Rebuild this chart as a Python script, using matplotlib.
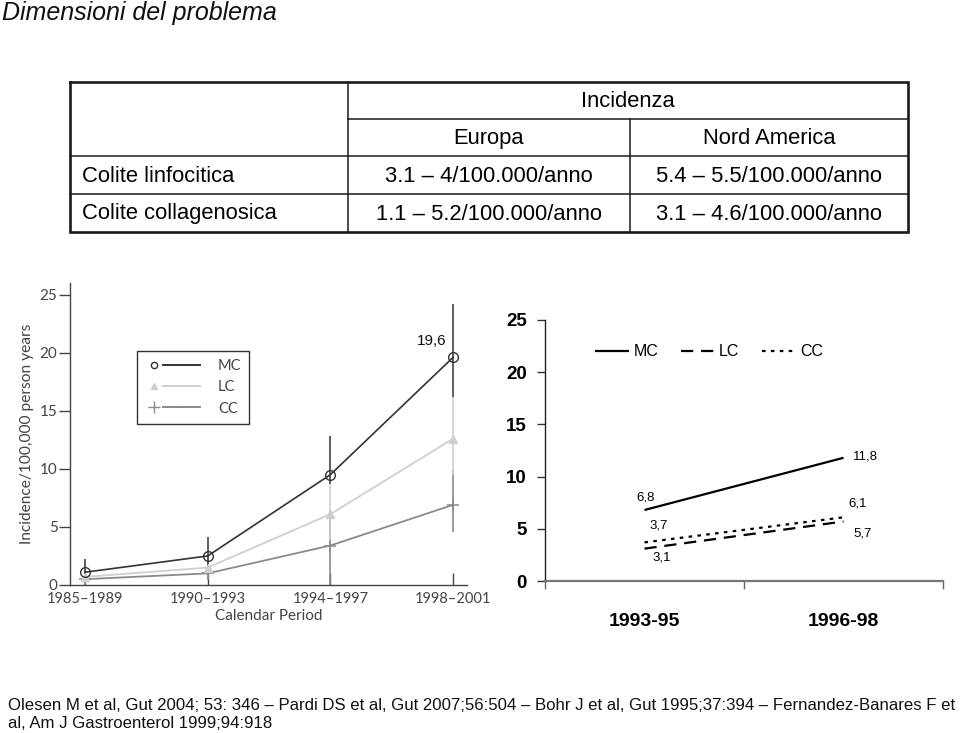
import matplotlib
matplotlib.use('Agg')
import matplotlib.pyplot as plt
from matplotlib.lines import Line2D
from matplotlib.legend_handler import HandlerTuple
from matplotlib import font_manager

# ---------------- data ----------------
title = "Dimensioni del problema"
table_header = "Incidenza"
table_regions = ["Europa", "Nord America"]
table_rows = ["Colite linfocitica", "Colite collagenosica"]
table_europa = ["3.1 – 4/100.000/anno", "1.1 – 5.2/100.000/anno"]
table_nordam = ["5.4 – 5.5/100.000/anno", "3.1 – 4.6/100.000/anno"]

left_periods = ["1985–1989", "1990–1993", "1994–1997", "1998–2001"]
left_mc = [1.1, 2.5, 9.5, 19.6]
left_lc = [0.7, 1.5, 6.1, 12.6]
left_cc = [0.5, 1.0, 3.4, 6.9]
left_mc_lo = [0.3, 0.9, 8.7, 16.2]
left_mc_hi = [2.2, 4.1, 12.8, 24.2]
left_lc_lo = [0.1, 0.7, 3.6, 9.5]
left_lc_hi = [1.3, 2.6, 8.7, 16.2]
left_cc_lo = [0.1, 0.4, 0.0, 4.6]
left_cc_hi = [1.0, 1.9, 6.5, 9.9]
left_yticks = [0, 5, 10, 15, 20, 25]
left_series = ["MC", "LC", "CC"]

right_periods = ["1993-95", "1996-98"]
right_mc = [6.8, 11.8]
right_lc = [3.1, 5.7]
right_cc = [3.7, 6.1]
right_yticks = [0, 5, 10, 15, 20, 25]

footer_lines = [
    "Olesen M et al, Gut 2004; 53: 346 – Pardi DS et al, Gut 2007;56:504 – "
    "Bohr J et al, Gut 1995;37:394 – Fernandez-Banares F et",
    "al, Am J Gastroenterol 1999;94:918",
]

# ---------------- fonts ----------------
names = {f.name for f in font_manager.fontManager.ttflist}
SANS = "Liberation Sans"
GEO = "Lato" if "Lato" in names else "DejaVu Sans"

def fmt(v):
    return f"{v:.1f}".replace(".", ",")

W, H = 960, 733
fig = plt.figure(figsize=(W / 100, H / 100), dpi=100)

# ---------------- background axes (title, table, footer) ----------------
bg = fig.add_axes([0, 0, 1, 1])
bg.set_xlim(0, W)
bg.set_ylim(H, 0)
bg.axis("off")

bg.text(2, 13, title, fontsize=18, style="italic", family=SANS,
        ha="left", va="center", color="#111")

xe = [70, 348, 630, 908]
ye = [82, 119, 156, 194, 232]
outer_lw, inner_lw = 1.9, 1.1
c = "#1a1a1a"
bg.plot([xe[0], xe[3], xe[3], xe[0], xe[0]], [ye[0], ye[0], ye[4], ye[4], ye[0]],
        color=c, lw=outer_lw, solid_joinstyle="miter")
bg.plot([xe[1], xe[3]], [ye[1], ye[1]], color=c, lw=inner_lw)
bg.plot([xe[0], xe[3]], [ye[2], ye[2]], color=c, lw=inner_lw)
bg.plot([xe[0], xe[3]], [ye[3], ye[3]], color=c, lw=inner_lw)
bg.plot([xe[1], xe[1]], [ye[0], ye[4]], color=c, lw=inner_lw)
bg.plot([xe[2], xe[2]], [ye[1], ye[4]], color=c, lw=inner_lw)

tfs = 15.8
ymid = [(ye[i] + ye[i + 1]) / 2 + 1 for i in range(4)]
bg.text((xe[1] + xe[3]) / 2, ymid[0], table_header, fontsize=tfs, family=SANS,
        ha="center", va="center")
for j, reg in enumerate(table_regions):
    bg.text((xe[1 + j] + xe[2 + j]) / 2, ymid[1], reg, fontsize=tfs, family=SANS,
            ha="center", va="center")
for i, name in enumerate(table_rows):
    bg.text(xe[0] + 12, ymid[2 + i], name, fontsize=tfs, family=SANS,
            ha="left", va="center")
    bg.text((xe[1] + xe[2]) / 2, ymid[2 + i], table_europa[i], fontsize=tfs,
            family=SANS, ha="center", va="center")
    bg.text((xe[2] + xe[3]) / 2, ymid[2 + i], table_nordam[i], fontsize=tfs,
            family=SANS, ha="center", va="center")

for k, line in enumerate(footer_lines):
    bg.text(8, 705 + 19 * k, line, fontsize=12.1, family=SANS, ha="left",
            va="center", color="#111")

# ---------------- left chart ----------------
ax1 = fig.add_axes([70 / W, (H - 585) / H, 397 / W, 302 / H])
x = list(range(len(left_periods)))
col_mc, col_lc, col_cc = "#333333", "#cfcfcf", "#8a8a8a"

def err(vals, lo, hi):
    return [[v - l for v, l in zip(vals, lo)], [h - v for v, h in zip(vals, hi)]]

ax1.errorbar(x, left_cc, yerr=err(left_cc, left_cc_lo, left_cc_hi), color=col_cc,
             lw=1.3, elinewidth=1.2, capsize=0, marker="+", ms=8, mew=1.1)
ax1.errorbar(x, left_lc, yerr=err(left_lc, left_lc_lo, left_lc_hi), color=col_lc,
             lw=1.3, elinewidth=1.2, capsize=0, marker="^", ms=5.5)
ax1.errorbar(x, left_mc, yerr=err(left_mc, left_mc_lo, left_mc_hi), color=col_mc,
             lw=1.2, elinewidth=1.1, capsize=0, marker="o", ms=7, mfc="none",
             mec=col_mc, mew=1.0)

ax1.set_xlim(-0.122, 3.113)
ax1.set_ylim(0, 26)
ax1.set_xticks(x)
ax1.set_xticklabels(left_periods, fontsize=10.5, family=GEO, color="#444")
ax1.set_yticks(left_yticks)
ax1.set_yticklabels([str(t) for t in left_yticks], fontsize=11, family=GEO, color="#444")
ax1.tick_params(axis="x", direction="in", length=9, width=1, color="#444", pad=5)
ax1.tick_params(axis="y", direction="out", length=8, width=1, color="#444", pad=1)
for s in ("top", "right"):
    ax1.spines[s].set_visible(False)
for s in ("left", "bottom"):
    ax1.spines[s].set_color("#444")
    ax1.spines[s].set_linewidth(1.0)
ax1.set_xlabel("Calendar Period", fontsize=11, family=GEO, color="#444", labelpad=2)
ax1.set_ylabel("Incidence/100,000 person years", fontsize=11.2, family=GEO,
               color="#444", labelpad=4)
ax1.annotate(fmt(left_mc[-1]), (x[-1], left_mc[-1]), xytext=(-21, 16),
             textcoords="offset pixels", ha="center", va="center",
             fontsize=11, family=SANS, color="#111")

h_mc = (Line2D([], [], ls="none", marker="o", ms=4.5, mfc="none", mec=col_mc, mew=1.0),
        Line2D([], [], color=col_mc, lw=1.4), Line2D([], [], color=col_mc, lw=1.4))
h_lc = (Line2D([], [], ls="none", marker="^", ms=5, color=col_lc),
        Line2D([], [], color=col_lc, lw=1.4), Line2D([], [], color=col_lc, lw=1.4))
h_cc = (Line2D([], [], ls="none", marker="+", ms=9, color=col_cc, mew=1.0),
        Line2D([], [], color=col_cc, lw=1.4), Line2D([], [], color=col_cc, lw=1.4))
leg1 = ax1.legend([h_mc, h_lc, h_cc], left_series,
                  handler_map={tuple: HandlerTuple(ndivide=3, pad=0.0)},
                  loc="upper left", bbox_to_anchor=((137 - 70) / 397, (585 - 351) / 302),
                  borderaxespad=0, frameon=True, fancybox=False, framealpha=1,
                  edgecolor="#333", handlelength=3.8, handletextpad=1.2,
                  labelspacing=0.5, borderpad=0.55,
                  prop={"family": GEO, "size": 10.5})
leg1.get_frame().set_linewidth(1.0)
for t in leg1.get_texts():
    t.set_color("#444")

# ---------------- right chart ----------------
ax2 = fig.add_axes([545 / W, (H - 581) / H, 398 / W, 261 / H])
xr = list(range(len(right_periods)))
ax2.plot(xr, right_mc, color="black", lw=1.6, solid_capstyle="butt", label="MC")
ax2.plot(xr, right_lc, color="black", lw=1.6, ls=(0, (5.5, 3.5)), label="LC")
ax2.plot(xr, right_cc, color="black", lw=1.6, ls=(0, (1.6, 2.4)), label="CC")

ax2.set_xlim(-0.5, 1.5)
ax2.set_ylim(0, 25)
ax2.set_xticks(xr)
ax2.set_xticklabels(right_periods, fontsize=14, family=SANS, weight="bold")
ax2.set_xticks([-0.5, 0.5, 1.5], minor=True)
ax2.tick_params(axis="x", which="major", length=0, pad=23)
ax2.tick_params(axis="x", which="minor", length=6, width=1, color="#666", direction="out")
ax2.set_yticks(right_yticks)
ax2.set_yticklabels([str(t) for t in right_yticks], fontsize=13.5, family=SANS,
                    weight="bold")
ax2.tick_params(axis="y", length=6, width=1, color="#333", pad=7)
for s in ("top", "right"):
    ax2.spines[s].set_visible(False)
ax2.spines["left"].set_color("#222")
ax2.spines["left"].set_linewidth(1.0)
ax2.spines["bottom"].set_color("#777")
ax2.spines["bottom"].set_linewidth(1.6)

lab_kw = dict(textcoords="offset pixels", fontsize=9.5, family=SANS, va="center")
ax2.annotate(fmt(right_mc[0]), (xr[0], right_mc[0]), xytext=(1, 13), ha="center", **lab_kw)
ax2.annotate(fmt(right_mc[1]), (xr[1], right_mc[1]), xytext=(9, 1), ha="left", **lab_kw)
ax2.annotate(fmt(right_cc[0]), (xr[0], right_cc[0]), xytext=(14, 17), ha="center", **lab_kw)
ax2.annotate(fmt(right_cc[1]), (xr[1], right_cc[1]), xytext=(14, 14), ha="center", **lab_kw)
ax2.annotate(fmt(right_lc[0]), (xr[0], right_lc[0]), xytext=(17, -9), ha="center", **lab_kw)
ax2.annotate(fmt(right_lc[1]), (xr[1], right_lc[1]), xytext=(19, -12), ha="center", **lab_kw)

leg2 = ax2.legend(loc="center left", bbox_to_anchor=((595 - 545) / 398, (581 - 352) / 261),
                  ncol=3, frameon=False, borderaxespad=0, borderpad=0,
                  handlelength=2.1, handletextpad=0.3, columnspacing=1.4,
                  prop={"family": SANS, "size": 11.5})

fig.savefig("out.png", dpi=100)
